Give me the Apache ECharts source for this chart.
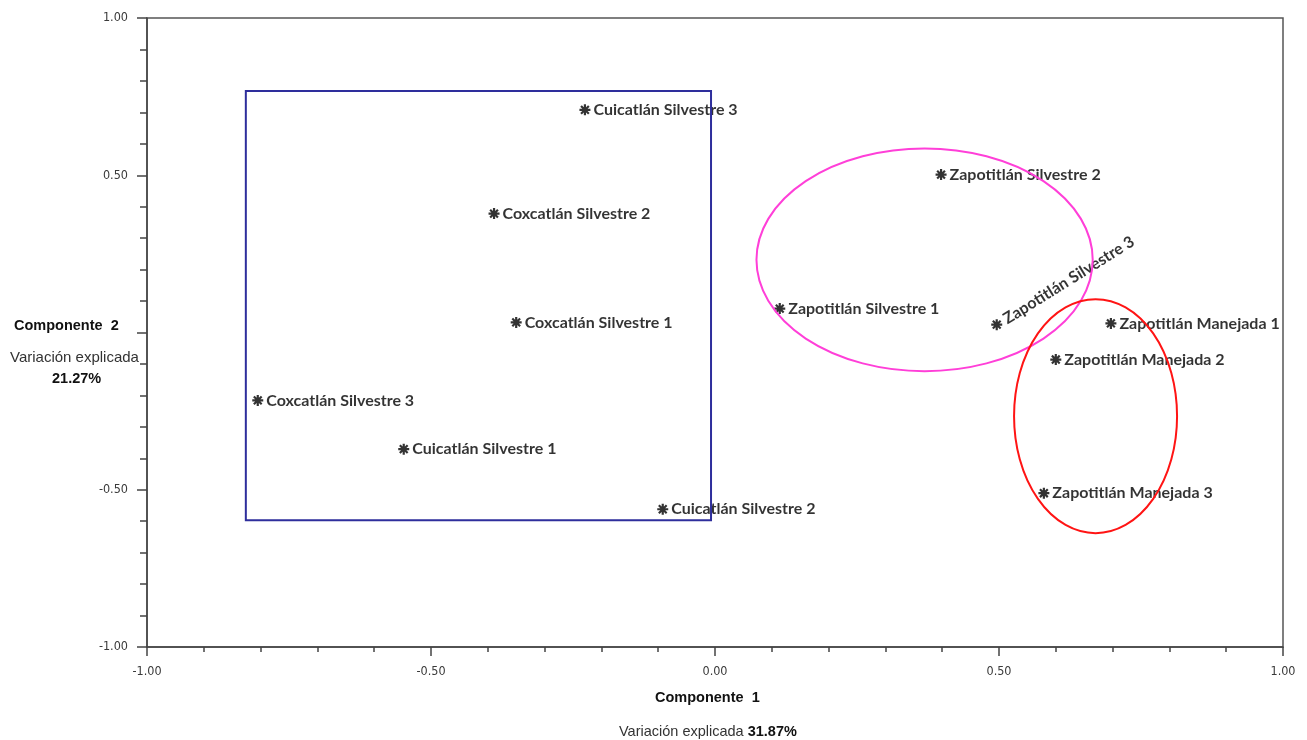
<!DOCTYPE html>
<html>
<head>
<meta charset="utf-8">
<script src="https://cdn.jsdelivr.net/npm/echarts@6/dist/echarts.min.js"></script>
<style>
  html, body { margin: 0; padding: 0; background: #fff; }
  #chart { width: 1307px; height: 740px; }
</style>
</head>
<body>
<div id="chart"></div>
<script>
// Sample names and their scores on the first two principal components
const sampleNames = [
  'Cuicatlán Silvestre 3', 'Coxcatlán Silvestre 2', 'Coxcatlán Silvestre 1',
  'Coxcatlán Silvestre 3', 'Cuicatlán Silvestre 1', 'Cuicatlán Silvestre 2',
  'Zapotitlán Silvestre 2', 'Zapotitlán Silvestre 1', 'Zapotitlán Silvestre 3',
  'Zapotitlán Manejada 1', 'Zapotitlán Manejada 2', 'Zapotitlán Manejada 3'
];
const comp1 = [-0.229, -0.389, -0.350, -0.805, -0.548, -0.092, 0.398, 0.114, 0.496, 0.697, 0.600, 0.579];
const comp2 = [0.708, 0.378, 0.032, -0.216, -0.371, -0.562, 0.502, 0.076, 0.025, 0.029, -0.086, -0.511];

// Axis ticks
const axisMin = -1, axisMax = 1, axisStep = 0.5;

// Group outlines: box [x1, y1, x2, y2] and ellipses [cx, cy, rx, ry] in component units
const groupBox = [-0.826, 0.768, -0.007, -0.597];
const groupEllipses = [
  [0.369, 0.231, 0.296, 0.354],
  [0.670, -0.266, 0.1435, 0.372]
];
const ellipseColors = ['#ff3fd8', '#ff1414'];

// Explained variance
const varComp1 = '31.87%';
const varComp2 = '21.27%';

const asterisk = 'path://M8,0H12V20H8Z M0,8H20V12H0Z ' +
  'M1.5,4.3L4.3,1.5L18.5,15.7L15.7,18.5Z M15.7,1.5L18.5,4.3L4.3,18.5L1.5,15.7Z';

const points = sampleNames.map((n, i) => {
  const item = { name: n, value: [comp1[i], comp2[i]] };
  if (n === 'Zapotitlán Silvestre 3') {
    item.label = { rotate: 32, offset: [2, -4] };
  }
  return item;
});

const tickFont = { color: '#3a3a3a', fontFamily: '"DejaVu Sans Condensed", "Liberation Sans"', fontSize: 12.5 };
const titleFont = '"Liberation Sans", Arial';

const chart = echarts.init(document.getElementById('chart'));
chart.setOption({
  animation: false,
  grid: {
    left: 147, right: 24, top: 18, bottom: 93,
    show: true, borderColor: '#555', borderWidth: 1.5
  },
  xAxis: {
    type: 'value', min: axisMin, max: axisMax, interval: axisStep,
    splitLine: { show: false },
    axisLine: { onZero: false, lineStyle: { color: '#444', width: 1.5 } },
    axisTick: { length: 9, lineStyle: { color: '#444', width: 1.5 } },
    minorTick: { show: true, splitNumber: 5, length: 5, lineStyle: { color: '#444', width: 1.5 } },
    axisLabel: Object.assign({ margin: 18, formatter: v => v.toFixed(2) }, tickFont)
  },
  yAxis: {
    type: 'value', min: axisMin, max: axisMax, interval: axisStep,
    splitLine: { show: false },
    axisLine: { onZero: false, lineStyle: { color: '#444', width: 1.5 } },
    axisTick: { length: 10, lineStyle: { color: '#444', width: 1.5 } },
    minorTick: { show: true, splitNumber: 5, length: 7, lineStyle: { color: '#444', width: 1.5 } },
    axisLabel: Object.assign({ margin: 19, padding: [3, 0, 0, 0], formatter: v => (v === 0 ? '' : v.toFixed(2)) }, tickFont)
  },
  graphic: [
    { type: 'text', left: 14, top: 318, style: { text: 'Componente  2', font: 'bold 14.5px ' + titleFont, fill: '#111' } },
    { type: 'text', left: 10, top: 350, style: { text: 'Variación explicada', font: '15px ' + titleFont, fill: '#333' } },
    { type: 'text', left: 52, top: 371, style: { text: varComp2, font: 'bold 14.5px ' + titleFont, fill: '#111' } },
    { type: 'text', left: 655, top: 690, style: { text: 'Componente  1', font: 'bold 14.5px ' + titleFont, fill: '#111' } },
    {
      type: 'text', left: 619, top: 724,
      style: {
        text: '{n|Variación explicada }{b|' + varComp1 + '}',
        rich: {
          n: { font: '14.5px ' + titleFont, fill: '#333' },
          b: { font: 'bold 14.5px ' + titleFont, fill: '#111' }
        }
      }
    }
  ],
  series: [
    {
      type: 'scatter',
      symbol: asterisk,
      symbolSize: 11,
      itemStyle: { color: '#000' },
      label: {
        show: true, position: 'right', distance: 3,
        formatter: p => p.name,
        color: '#000', fontFamily: 'Lato, "Open Sans", sans-serif', fontWeight: 'bold', fontSize: 16
      },
      data: points,
      z: 3
    },
    {
      type: 'custom',
      silent: true,
      z: 4,
      data: [groupBox],
      renderItem: (params, api) => {
        const p1 = api.coord([api.value(0), api.value(1)]);
        const p2 = api.coord([api.value(2), api.value(3)]);
        return {
          type: 'rect',
          shape: { x: p1[0], y: p1[1], width: p2[0] - p1[0], height: p2[1] - p1[1] },
          style: { fill: 'none', stroke: '#2e2e9c', lineWidth: 2 }
        };
      }
    },
    {
      type: 'custom',
      silent: true,
      z: 4,
      data: groupEllipses,
      renderItem: (params, api) => {
        const c = api.coord([api.value(0), api.value(1)]);
        const s = api.size([api.value(2), api.value(3)]);
        const rx = s[0], ry = s[1];
        const d = `M${c[0] - rx},${c[1]} A${rx},${ry} 0 1 0 ${c[0] + rx},${c[1]} ` +
                  `A${rx},${ry} 0 1 0 ${c[0] - rx},${c[1]} Z`;
        return {
          type: 'path',
          shape: { pathData: d },
          style: { fill: 'none', stroke: ellipseColors[params.dataIndex], lineWidth: 2 }
        };
      }
    }
  ]
});
</script>
</body>
</html>
